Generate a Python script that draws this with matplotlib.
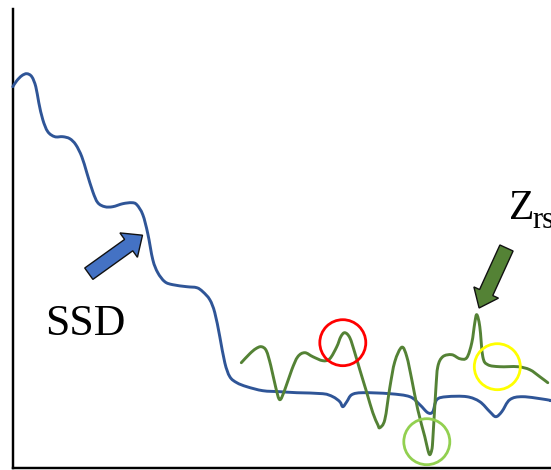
import matplotlib
matplotlib.use("Agg")
import matplotlib.pyplot as plt
from matplotlib.patches import Circle, FancyArrow, PathPatch
from matplotlib.path import Path

# SSD curve (blue)
ssd_x = [0, 4, 9, 14, 19, 23, 26, 30, 35, 42, 50, 57, 63, 69, 74, 80, 85, 92, 100,
         110, 119, 124, 130, 135, 140, 145, 152, 160, 174, 184, 190, 197, 202, 207,
         212, 217, 224, 234, 250, 267, 284, 310, 320, 327, 330, 334, 339, 350, 377,
         397, 407, 415, 420, 424, 434, 454, 467, 477, 483, 489, 497, 510, 534, 538]
ssd_y = [381, 387, 392, 394, 391, 381, 365, 348, 336, 331, 331, 329, 323, 311, 295,
         276, 265, 261, 261, 264, 265, 263, 253, 234, 208, 195, 186, 183, 181, 180,
         176, 168, 155, 131, 105, 91, 85, 81, 77, 76, 75, 74, 71, 66, 61, 66, 73, 75,
         74, 71, 63, 55, 56, 68, 71, 71, 66, 56, 51, 56, 68, 71, 68, 67]

# Zrs curve (green)
zrs_x = [228.5, 237, 243, 248.5, 253.5, 258, 263, 267, 272, 279, 285, 292, 300, 310,
         317, 324, 328, 332, 337, 342, 347, 354, 360, 365, 367, 372, 377, 382, 389,
         394, 399, 405, 412, 415, 417, 419, 420, 423, 425, 430, 439, 447, 454, 459,
         462, 464, 467, 470, 475, 487, 505, 517, 527, 535]
zrs_y = [105, 114, 119, 121, 117, 102, 80, 68, 78, 98, 111, 115, 111, 107, 109, 121,
         131, 135, 130, 115, 98, 75, 55, 43, 40, 48, 80, 106, 120.5, 111, 88, 58, 31,
         18, 13, 18, 28, 78, 101, 111, 113, 109, 110, 125, 145, 153, 141, 111, 103,
         101, 101, 98, 91, 85]

# Highlight rings: centre x, centre y, colour
ring_x = [330, 414, 484.5]
ring_y = [125, 26, 101]
ring_colors = ["#FF0000", "#92D050", "#FFFF00"]
ring_radius = 23


def smooth_path(xs, ys, tension=0.5):
    """Cubic Bezier path passing through every (x, y) point (Catmull-Rom style)."""
    pts = list(zip(xs, ys))
    verts = [pts[0]]
    codes = [Path.MOVETO]
    n = len(pts)
    for i in range(n - 1):
        p0 = pts[i - 1] if i > 0 else pts[i]
        p1 = pts[i]
        p2 = pts[i + 1]
        p3 = pts[i + 2] if i + 2 < n else pts[i + 1]
        k = tension / 3.0
        c1 = (p1[0] + (p2[0] - p0[0]) * k, p1[1] + (p2[1] - p0[1]) * k)
        c2 = (p2[0] - (p3[0] - p1[0]) * k, p2[1] - (p3[1] - p1[1]) * k)
        verts += [c1, c2, p2]
        codes += [Path.CURVE4] * 3
    return Path(verts, codes)


W, H = 551, 470
fig = plt.figure(figsize=(W / 100, H / 100), dpi=100)
ax_left, ax_bottom_px, ax_top_px = 12.8, 467.7, 9.3
ax = fig.add_axes([ax_left / W, (H - ax_bottom_px) / H,
                   (W - ax_left) / W, (ax_bottom_px - ax_top_px) / H])
ax.set_xlim(0, W - ax_left)
ax.set_ylim(0, ax_bottom_px - ax_top_px)
ax.set_xticks([])
ax.set_yticks([])
for side in ("top", "right"):
    ax.spines[side].set_visible(False)
for side in ("left", "bottom"):
    ax.spines[side].set_linewidth(1.75)
    ax.spines[side].set_color("black")

ax.add_patch(PathPatch(smooth_path(ssd_x, ssd_y), fill=False, edgecolor="#2F5597",
                       lw=2.1, capstyle="round", joinstyle="round", zorder=3,
                       clip_on=False))
ax.add_patch(PathPatch(smooth_path(zrs_x, zrs_y), fill=False, edgecolor="#548235",
                       lw=2.1, capstyle="round", joinstyle="round", zorder=4,
                       clip_on=False))

for cx, cy, c in zip(ring_x, ring_y, ring_colors):
    ax.add_patch(Circle((cx, cy), ring_radius, fill=False, edgecolor=c, lw=2.0,
                        zorder=5, clip_on=False))

# Pointer arrows
ax.add_patch(FancyArrow(76, 194, 53.7, 38.5, width=14, head_width=30,
                        head_length=17, length_includes_head=True,
                        facecolor="#4472C4", edgecolor="#111111", lw=1.0, zorder=6))
ax.add_patch(FancyArrow(493.7, 219.7, -27.4, -60, width=14.5, head_width=27,
                        head_length=17, length_includes_head=True,
                        facecolor="#548235", edgecolor="#111111", lw=1.0, zorder=6))

serif = ["Liberation Serif", "DejaVu Serif"]
ax.text(32.5, 133, "SSD", fontsize=31.5, family=serif, ha="left", va="baseline")
ax.text(496, 249, "Z", fontsize=30, family=serif, ha="left", va="baseline",
        clip_on=False)
ax.text(519.5, 240, "rs", fontsize=22, family=serif, ha="left", va="baseline",
        clip_on=False)

fig.savefig("out.png", dpi=100)
